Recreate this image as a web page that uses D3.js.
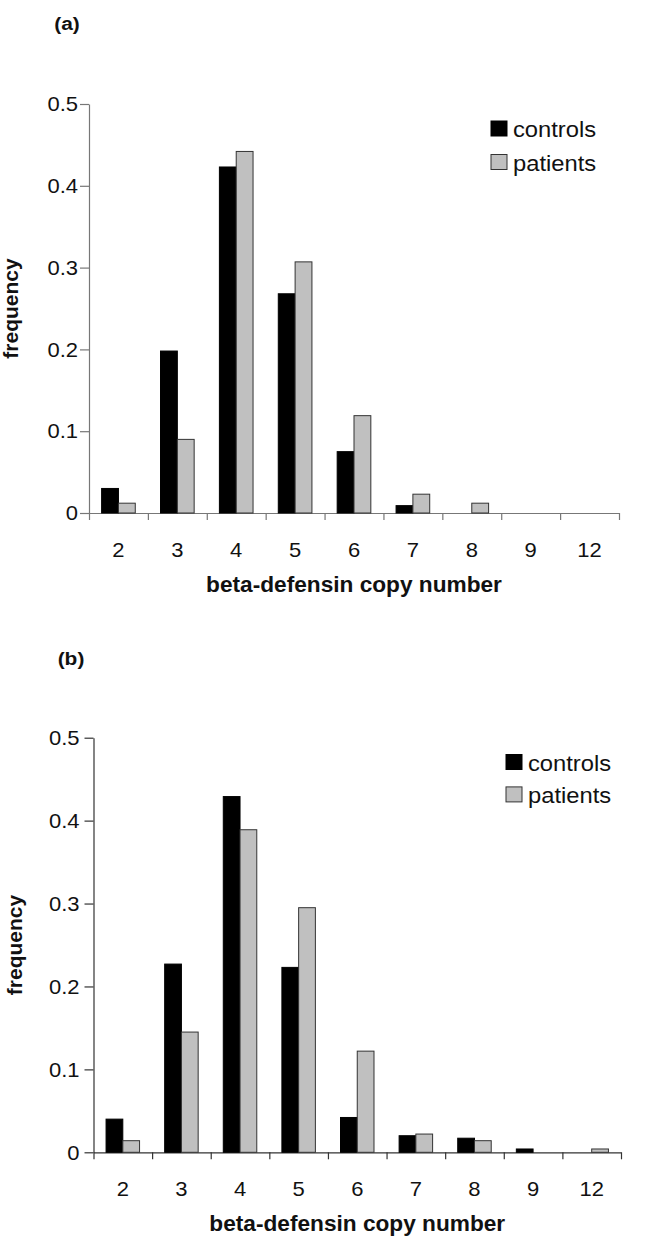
<!DOCTYPE html>
<html>
<head>
<meta charset="utf-8">
<script src="https://cdn.jsdelivr.net/npm/d3@7"></script>
<style>
  html, body { margin: 0; padding: 0; background: #fff; }
  svg { display: block; }
  text { font-family: "Liberation Sans", Arial, sans-serif; fill: #111; }
</style>
</head>
<body>
<svg id="chart" width="646" height="1250"></svg>
<script>
// data
const copyNumbers = ["2", "3", "4", "5", "6", "7", "8", "9", "12"];
const seriesNames = ["controls", "patients"];
const controlsA = [0.030, 0.198, 0.423, 0.268, 0.075, 0.009, 0, 0, 0];
const patientsA = [0.012, 0.090, 0.442, 0.307, 0.119, 0.023, 0.012, 0, 0];
const controlsB = [0.040, 0.227, 0.429, 0.223, 0.042, 0.020, 0.017, 0.004, 0];
const patientsB = [0.014, 0.145, 0.389, 0.295, 0.122, 0.022, 0.014, 0, 0.004];
const yTicks = [0, 0.1, 0.2, 0.3, 0.4, 0.5];
const yTickLabels = ["0", "0.1", "0.2", "0.3", "0.4", "0.5"];

const colors = { controls: "#000000", patients: "#c0c0c0" };
const strokes = { controls: "#000000", patients: "#333333" };

const svg = d3.select("#chart");
svg.append("rect").attr("width", 646).attr("height", 1250).attr("fill", "#fff");

// text is slightly wider than the font in the picture
function stretched(g, x, y, sx) {
    return g.append("text").attr("transform", `translate(${x},${y}) scale(${sx},1)`);
}

function drawPanel(p) {
    const g = svg.append("g");

    const x = d3.scaleBand().domain(copyNumbers).range([p.x0, p.x1]);
    const xEdge = d3.scaleLinear().domain([0, copyNumbers.length]).range([p.x0, p.x1]);
    const inner = d3.scaleBand().domain(seriesNames).range([0, x.bandwidth()]).paddingOuter(0.75);
    const y = d3.scaleLinear().domain([0, 0.5]).range([p.yZero, p.yTop]);

    // panel letter
    stretched(g, p.tagX, p.tagY, 1.1)
        .attr("text-anchor", "middle")
        .attr("font-size", 19).attr("font-weight", "bold")
        .text(p.tag);

    // y axis
    const yAxis = g.append("g")
        .attr("transform", `translate(${p.x0},0)`)
        .call(d3.axisLeft(y).tickValues(yTicks).tickSize(9).tickSizeOuter(0).tickFormat(""));
    yAxis.selectAll("path, line").attr("stroke", p.axisColor).attr("stroke-width", 1.2);

    yTicks.forEach((t, i) => {
        stretched(g, p.x0 - 9 - p.labelGap, y(t), 1.1)
            .attr("text-anchor", "end").attr("dy", "0.36em")
            .attr("font-size", 20)
            .text(yTickLabels[i]);
    });

    // x axis: ticks on category boundaries
    const xAxis = g.append("g")
        .attr("transform", `translate(0,${p.yZero})`)
        .call(d3.axisBottom(xEdge).tickValues(d3.range(copyNumbers.length + 1)).tickSize(7).tickSizeOuter(0).tickFormat(""));
    xAxis.selectAll("path, line").attr("stroke", p.axisColor).attr("stroke-width", 1.2);

    copyNumbers.forEach(c => {
        stretched(g, x(c) + x.bandwidth() / 2, p.yZero + 44, 1.1)
            .attr("text-anchor", "middle")
            .attr("font-size", 20)
            .text(c);
    });

    // bars
    const rows = [];
    copyNumbers.forEach((c, i) => {
        rows.push({ cat: c, key: "controls", v: p.controls[i] });
        rows.push({ cat: c, key: "patients", v: p.patients[i] });
    });
    g.append("g").selectAll("rect")
        .data(rows.filter(d => d.v > 0))
        .join("rect")
        .attr("x", d => x(d.cat) + inner(d.key))
        .attr("width", inner.bandwidth())
        .attr("y", d => y(d.v))
        .attr("height", d => y(0) - y(d.v))
        .attr("fill", d => colors[d.key])
        .attr("stroke", d => strokes[d.key])
        .attr("stroke-width", 1);

    // axis titles
    stretched(g, (p.x0 + p.x1) / 2, p.yZero + 79, 1.03)
        .attr("text-anchor", "middle")
        .attr("font-size", 22).attr("font-weight", "bold")
        .text("beta-defensin copy number");

    g.append("text")
        .attr("transform", `translate(${p.yTitleX},${(p.yTop + p.yZero) / 2}) rotate(-90)`)
        .attr("text-anchor", "middle")
        .attr("font-size", 21).attr("font-weight", "bold")
        .text("frequency");

    // legend
    seriesNames.forEach((s, i) => {
        const ly = p.legendY + i * p.legendStep;
        g.append("rect")
            .attr("x", p.legendX).attr("y", ly)
            .attr("width", 16).attr("height", 15)
            .attr("fill", colors[s]).attr("stroke", strokes[s]).attr("stroke-width", 1);
        stretched(g, p.legendX + 22, ly + 16, 1.08)
            .attr("font-size", 22)
            .text(s);
    });
}

drawPanel({
    tag: "(a)", tagX: 67, tagY: 30,
    x0: 89, x1: 619, yTop: 104, yZero: 513,
    axisColor: "#777", labelGap: 2, yTitleX: 18,
    legendX: 491, legendY: 121, legendStep: 33.5,
    controls: controlsA, patients: patientsA
});

drawPanel({
    tag: "(b)", tagX: 71, tagY: 665,
    x0: 93.5, x1: 621, yTop: 737.7, yZero: 1152.3,
    axisColor: "#333", labelGap: 5, yTitleX: 22,
    legendX: 506, legendY: 754.5, legendStep: 32.4,
    controls: controlsB, patients: patientsB
});
</script>
</body>
</html>
